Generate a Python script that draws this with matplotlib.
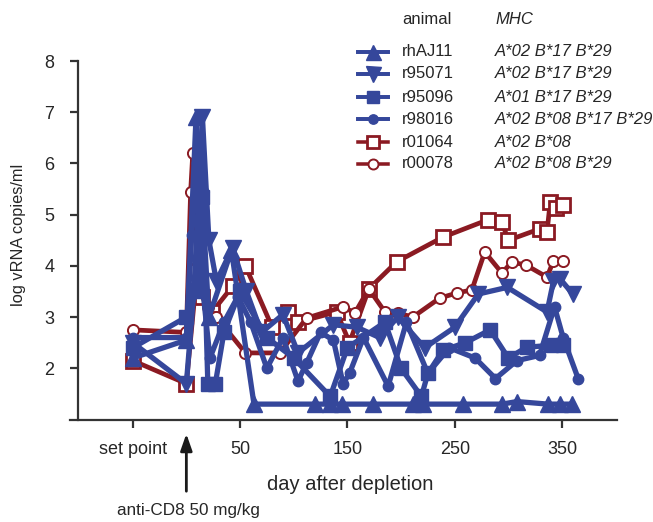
import matplotlib.pyplot as plt
from matplotlib.lines import Line2D

plt.rcParams['font.family'] = ['Liberation Sans', 'DejaVu Sans']

BLUE = '#35479b'
RED = '#8b1a22'
INK = '#262626'

# day -50 stands for the pre-depletion set point
rhAJ11_days = [-50, 0, 9, 14, 21, 42, 63, 120, 134, 145, 174, 211, 220, 258, 294, 308, 337, 348, 359]
rhAJ11_vals = [2.2, 2.55, 6.9, 5.6, 3.0, 4.3, 1.3, 1.3, 1.3, 1.3, 1.3, 1.3, 1.3, 1.3, 1.3, 1.35, 1.3, 1.3, 1.3]

r95071_days = [-50, 0, 7, 15, 21, 28, 43, 56, 70, 90, 104, 137, 159, 180, 197, 222, 250, 272, 299, 336, 342, 348, 360]
r95071_vals = [2.5, 1.7, 3.5, 6.9, 4.5, 3.7, 4.35, 3.5, 2.7, 3.05, 2.3, 2.85, 2.8, 2.6, 3.0, 2.4, 2.8, 3.45, 3.58, 3.1, 3.7, 3.75, 3.45]

r95096_days = [-50, 0, 10, 15, 20, 27, 35, 50, 75, 100, 134, 150, 185, 200, 219, 225, 239, 260, 283, 300, 317, 340, 351]
r95096_vals = [2.4, 3.0, 3.5, 5.35, 1.7, 1.7, 2.7, 3.5, 2.6, 2.2, 1.45, 2.4, 2.9, 2.0, 1.45, 1.9, 2.35, 2.5, 2.75, 2.2, 2.41, 2.45, 2.45]

r98016_days = [-50, 0, 5, 10, 15, 22, 35, 48, 60, 75, 90, 104, 112, 125, 137, 146, 152, 165, 188, 205,
               225, 245, 269, 288, 308, 329, 343, 351, 365]
r98016_vals = [2.6, 2.6, 4.6, 6.0, 3.6, 2.2, 2.9, 3.4, 2.9, 2.0, 2.6, 1.75, 2.1, 2.7, 2.55, 1.7, 1.9, 2.6, 1.65, 2.9,
               1.9, 2.4, 2.2, 1.8, 2.15, 2.25, 3.2, 2.6, 1.8]

r01064_days = [-50, 0, 10, 15, 24, 43, 55, 80, 95, 104, 140, 152, 170, 196, 239, 281, 294, 300, 329, 336, 339, 344, 351]
r01064_vals = [2.15, 1.7, 3.9, 3.4, 3.1, 3.6, 4.0, 2.8, 3.1, 2.9, 3.1, 2.5, 3.55, 4.08, 4.56, 4.9, 4.85, 4.5, 4.72, 4.66, 5.25, 5.13, 5.18]

r00078_days = [-50, 0, 4, 6, 12, 20, 28, 55, 87, 112, 146, 157, 170, 185, 197, 211, 236, 252, 266, 278, 294, 303, 316, 336, 342, 351]
r00078_vals = [2.75, 2.7, 5.45, 6.2, 3.5, 3.2, 3.0, 2.3, 2.3, 2.98, 3.2, 3.08, 3.55, 3.1, 3.08, 3.0, 3.37, 3.47, 3.53, 4.27, 3.86, 4.07, 4.02, 3.78, 4.1, 4.1]

animals = ['rhAJ11', 'r95071', 'r95096', 'r98016', 'r01064', 'r00078']
mhc = ['A*02 B*17 B*29', 'A*02 B*17 B*29', 'A*01 B*17 B*29',
       'A*02 B*08 B*17 B*29', 'A*02 B*08', 'A*02 B*08 B*29']
series_days = [rhAJ11_days, r95071_days, r95096_days, r98016_days, r01064_days, r00078_days]
series_vals = [rhAJ11_vals, r95071_vals, r95096_vals, r98016_vals, r01064_vals, r00078_vals]

styles = [
    dict(color=BLUE, marker='^', ms=12, mfc=BLUE, mec=BLUE, lw=3.8),
    dict(color=BLUE, marker='v', ms=12, mfc=BLUE, mec=BLUE, lw=3.8),
    dict(color=BLUE, marker='s', ms=10, mfc=BLUE, mec=BLUE, lw=3.8),
    dict(color=BLUE, marker='o', ms=7.5, mfc=BLUE, mec=BLUE, lw=3.8),
    dict(color=RED, marker='s', ms=10, mfc='white', mec=RED, mew=2.0, lw=3.4),
    dict(color=RED, marker='o', ms=8, mfc='white', mec=RED, mew=1.4, lw=3.4),
]

fig = plt.figure(figsize=(6.53, 5.22), dpi=100)
ax = fig.add_axes([70 / 653, 1 - 420 / 522, 547 / 653, 359 / 522])

# red animals underneath, blue on top
for i in [4, 5, 0, 1, 2, 3]:
    ax.plot(series_days[i], series_vals[i], clip_on=False, zorder=3 if i < 4 else 2, **styles[i])

ax.set_xlim(-108.4, 401.2)
ax.set_ylim(0.99, 8.0)
ax.set_xticks([-50, 50, 150, 250, 350])
ax.set_xticklabels(['set point', '50', '150', '250', '350'])
ax.set_yticks([2, 3, 4, 5, 6, 7, 8])

for side in ['top', 'right']:
    ax.spines[side].set_visible(False)
ax.spines['left'].set_position(('axes', 8 / 547))
for side in ['left', 'bottom']:
    ax.spines[side].set_linewidth(1.6)
    ax.spines[side].set_color('#333333')
ax.tick_params(axis='both', direction='out', length=6, width=1.6, color='#333333',
               labelsize=13, labelcolor=INK)
ax.tick_params(axis='x', pad=9)
ax.tick_params(axis='y', pad=11)

fig.text(19 / 653, 1 - 235 / 522, 'log vRNA copies/ml', rotation=90, ha='center', va='center',
         fontsize=11.8, color=INK)
fig.text(350 / 653, 1 - 484 / 522, 'day after depletion', ha='center', va='center',
         fontsize=14.5, color=INK)
fig.text(188 / 653, 1 - 510 / 522, 'anti-CD8 50 mg/kg', ha='center', va='center',
         fontsize=12.3, color=INK)
ax.annotate('', xy=(0, 1 - 431 / 522), xytext=(0, 1 - 494 / 522),
            xycoords=('data', 'figure fraction'), textcoords=('data', 'figure fraction'),
            arrowprops=dict(arrowstyle='-|>,head_length=1.0,head_width=0.35', color='#1a1a1a', lw=2.0))

# legend drawn by hand as a small table
fig.text(402 / 653, 1 - 19 / 522, 'animal', ha='left', va='center', fontsize=12, color=INK)
fig.text(495 / 653, 1 - 19 / 522, 'MHC', ha='left', va='center', fontsize=12, color=INK, style='italic')
row_y = [52, 74, 97, 119, 142, 164]
for i, name in enumerate(animals):
    yf = 1 - row_y[i] / 522
    st = dict(styles[i])
    lw = st.pop('lw')
    st['ms'] = st['ms'] * 0.9
    fig.add_artist(Line2D([358 / 653, 388 / 653], [yf, yf], lw=lw * 0.75, transform=fig.transFigure,
                          color=st['color']))
    fig.add_artist(Line2D([373 / 653], [yf], transform=fig.transFigure, linestyle='none',
                          **{k: v for k, v in st.items() if k != 'color'}, color=st['color']))
    fig.text(402 / 653, yf, name, ha='left', va='center', fontsize=12, color=INK)
    fig.text(495 / 653, yf, mhc[i], ha='left', va='center', fontsize=12, color=INK, style='italic')

fig.savefig('out.png', dpi=100)
